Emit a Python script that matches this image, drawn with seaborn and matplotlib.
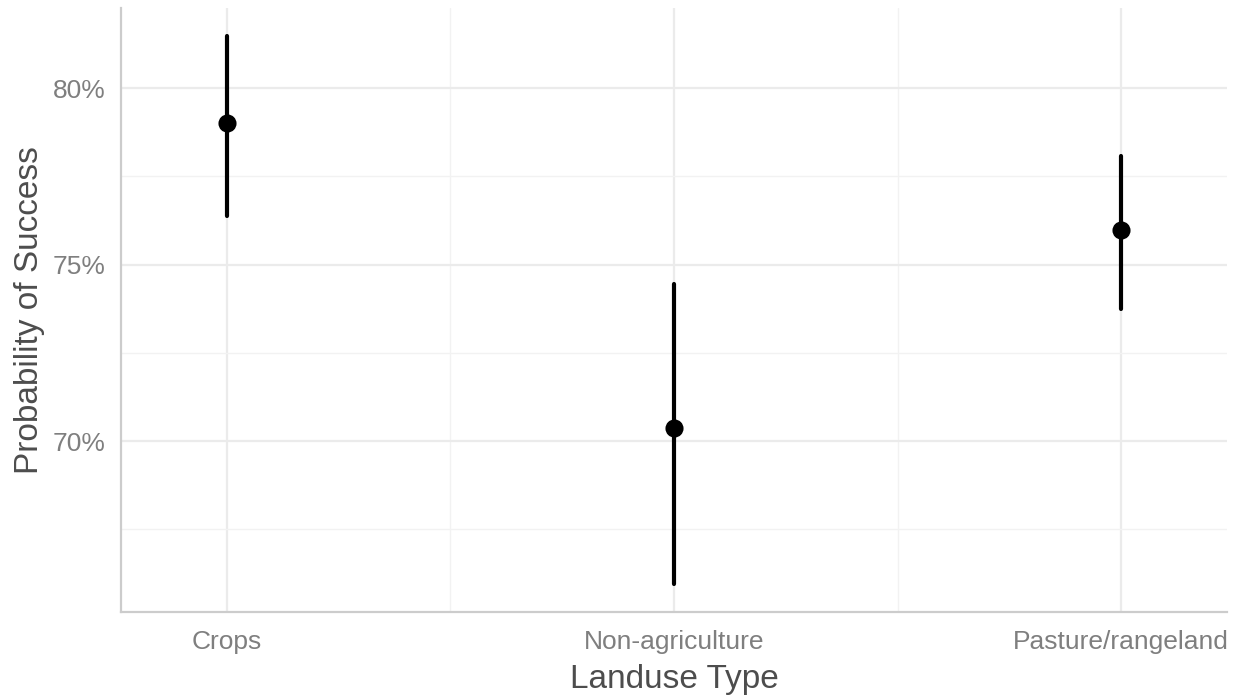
import matplotlib
matplotlib.use("Agg")
import matplotlib.pyplot as plt
import matplotlib.ticker as mticker
import seaborn as sns
import pandas as pd

# Estimated probability of success by land use, with interval bounds
landuse = ["Crops", "Non-agriculture", "Pasture/rangeland"]
estimate = [0.7901, 0.7037, 0.7598]
lower = [0.7637, 0.6595, 0.7374]
upper = [0.8147, 0.7445, 0.7807]

# long format: median gives the estimate, full-range interval gives the bounds
rows = []
for name, lo, est, hi in zip(landuse, lower, estimate, upper):
    for v in (lo, est, hi):
        rows.append({"Landuse": name, "p": v})
df = pd.DataFrame(rows)

sns.set_theme(style="white")
plt.rcParams["font.family"] = ["Liberation Sans", "DejaVu Sans"]

fig = plt.figure(figsize=(12.42, 7.0), dpi=100)
ax = fig.add_axes([121 / 1242, 1 - 612 / 700, (1227 - 121) / 1242, (612 - 8) / 700])

sns.pointplot(
    data=df, x="Landuse", y="p", order=landuse,
    estimator="median", errorbar=("pi", 100),
    color="black", linestyle="none", markers="o",
    markersize=11, err_kws={"linewidth": 3.0}, ax=ax,
)

ax.set_xlim(-0.237, 2.237)
ax.set_ylim(0.6516, 0.8227)

ax.yaxis.set_major_locator(mticker.FixedLocator([0.70, 0.75, 0.80]))
ax.yaxis.set_minor_locator(mticker.FixedLocator([0.675, 0.725, 0.775]))
ax.xaxis.set_minor_locator(mticker.FixedLocator([0.5, 1.5]))
ax.yaxis.set_major_formatter(mticker.FuncFormatter(lambda v, _: f"{v * 100:.0f}%"))

ax.grid(True, which="major", color="#ebebeb", linewidth=1.6)
ax.grid(True, which="minor", color="#f2f2f2", linewidth=1.0)
ax.set_axisbelow(True)

for side in ("top", "right"):
    ax.spines[side].set_visible(False)
for side in ("left", "bottom"):
    ax.spines[side].set_visible(True)
    ax.spines[side].set_color("#cccccc")
    ax.spines[side].set_linewidth(1.6)

ax.tick_params(axis="both", which="both", length=0, colors="#7f7f7f", labelsize=19)
ax.tick_params(axis="y", pad=11)
ax.tick_params(axis="x", pad=13)

ax.set_xlabel("Landuse Type", fontsize=24, color="#4d4d4d", labelpad=7)
ax.set_ylabel("Probability of Success", fontsize=24, color="#4d4d4d", labelpad=6)

fig.savefig("out.png", dpi=100)
